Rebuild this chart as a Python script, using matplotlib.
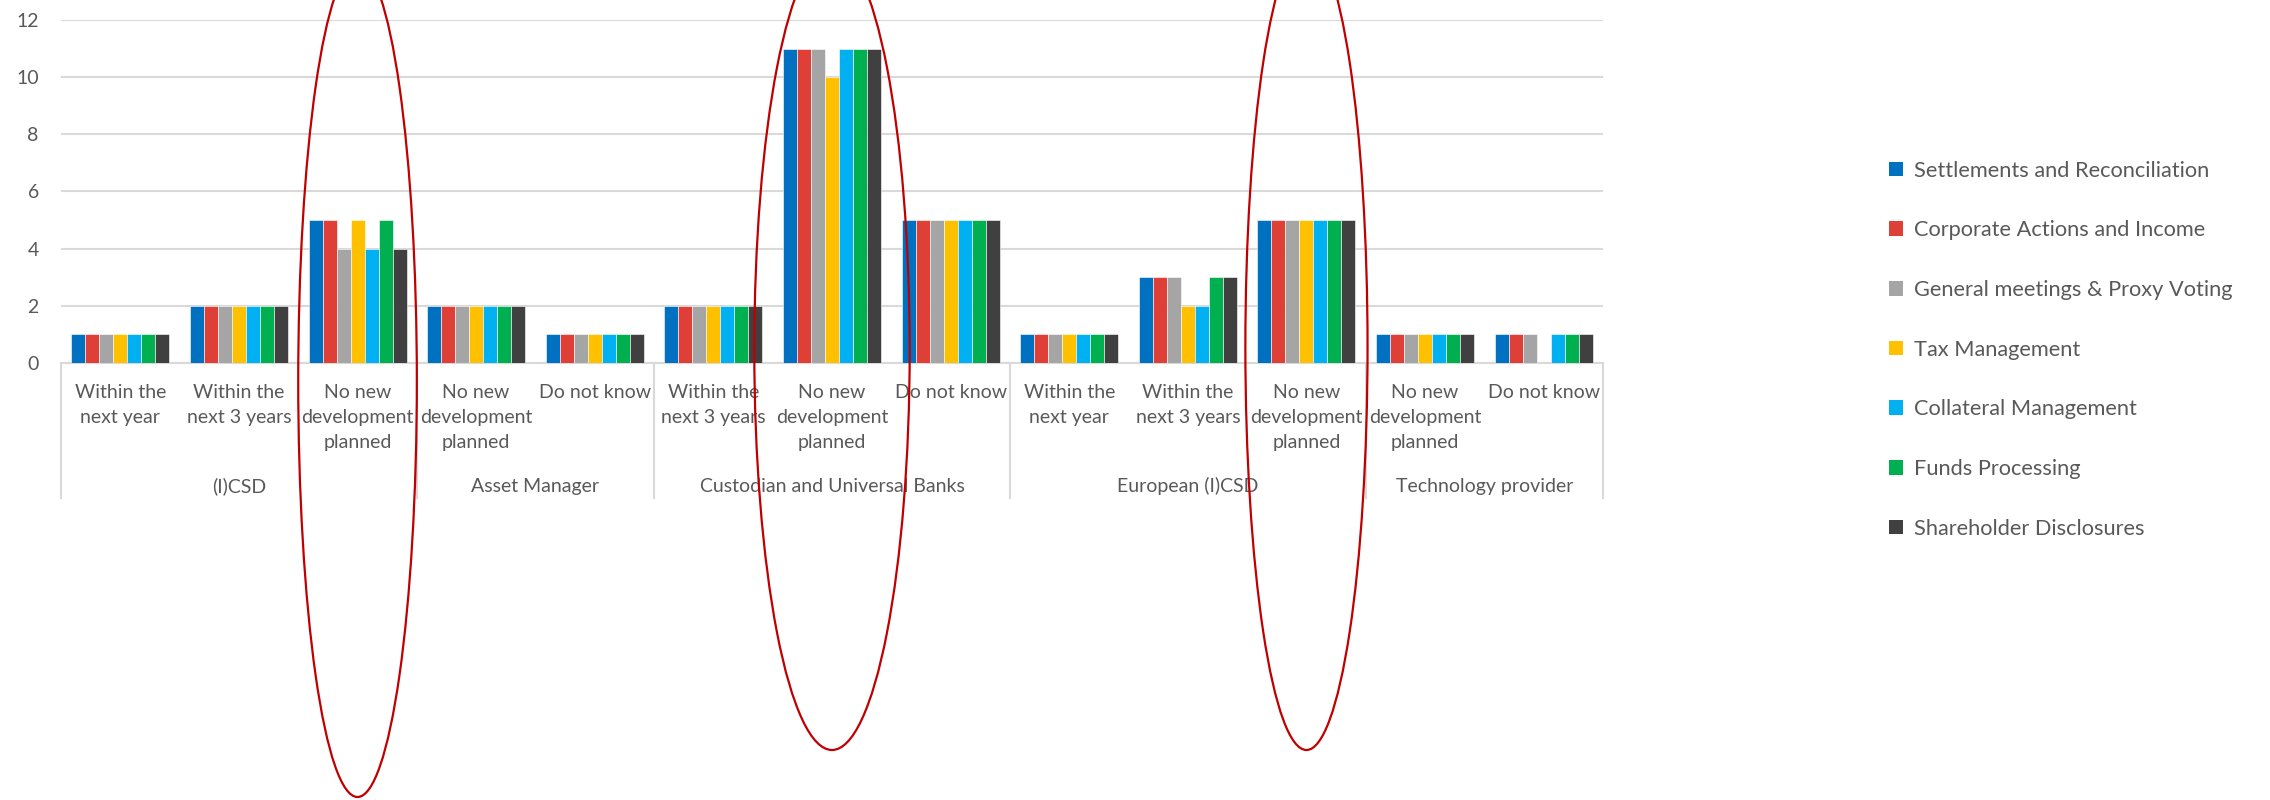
import matplotlib.pyplot as plt
import matplotlib.transforms as mtransforms
from matplotlib.patches import Ellipse, Patch
import numpy as np

plt.rcParams['font.family'] = ['Lato', 'DejaVu Sans']

groups = ['(I)CSD', 'Asset Manager', 'Custodian and Universal Banks',
          'European (I)CSD', 'Technology provider']
group_sizes = [3, 2, 3, 3, 2]
categories = ['Within the\nnext year', 'Within the\nnext 3 years', 'No new\ndevelopment\nplanned',
              'No new\ndevelopment\nplanned', 'Do not know',
              'Within the\nnext 3 years', 'No new\ndevelopment\nplanned', 'Do not know',
              'Within the\nnext year', 'Within the\nnext 3 years', 'No new\ndevelopment\nplanned',
              'No new\ndevelopment\nplanned', 'Do not know']

series = ['Settlements and Reconciliation', 'Corporate Actions and Income',
          'General meetings & Proxy Voting', 'Tax Management',
          'Collateral Management', 'Funds Processing', 'Shareholder Disclosures']
colors = ['#0070C0', '#DE4037', '#A5A5A5', '#FFC000', '#00B0F0', '#00B050', '#404040']

settlements = [1, 2, 5, 2, 1, 2, 11, 5, 1, 3, 5, 1, 1]
corporate = [1, 2, 5, 2, 1, 2, 11, 5, 1, 3, 5, 1, 1]
meetings = [1, 2, 4, 2, 1, 2, 11, 5, 1, 3, 5, 1, 1]
tax = [1, 2, 5, 2, 1, 2, 10, 5, 1, 2, 5, 1, 0]
collateral = [1, 2, 4, 2, 1, 2, 11, 5, 1, 2, 5, 1, 1]
funds = [1, 2, 5, 2, 1, 2, 11, 5, 1, 3, 5, 1, 1]
disclosures = [1, 2, 4, 2, 1, 2, 11, 5, 1, 3, 5, 1, 1]
values = [settlements, corporate, meetings, tax, collateral, funds, disclosures]

# categories circled in red (the "No new development planned" answers)
highlight = [2, 6, 10]
highlight_w = [1.0, 1.31, 1.03]

W, H = 2270, 800
fig = plt.figure(figsize=(W / 100, H / 100), dpi=100)
ax = fig.add_axes([61 / W, 1 - 363 / H, (1603 - 61) / W, (363 - 20) / H])

grid_c = '#D9D9D9'
text_c = '#595959'

x = np.arange(len(categories))
bw = 0.118
for i, (name, vals, c) in enumerate(zip(series, values, colors)):
    ax.bar(x + (i - 3) * bw, vals, width=bw, color=c, edgecolor='white',
           linewidth=0.4, label=name, zorder=3)

ax.set_xlim(-0.5, len(categories) - 0.5)
ax.set_ylim(0, 12)
ax.set_yticks(range(0, 13, 2))
ax.yaxis.grid(True, color=grid_c, linewidth=1.5, zorder=0)
for s in ['top', 'right', 'left']:
    ax.spines[s].set_visible(False)
ax.spines['bottom'].set_color(grid_c)
ax.spines['bottom'].set_linewidth(1.5)
ax.tick_params(axis='y', length=0, pad=16, labelsize=14, labelcolor=text_c)
ax.set_xticks(x)
ax.set_xticklabels(categories, fontsize=14, color=text_c, linespacing=1.56)
ax.tick_params(axis='x', length=0, pad=15)

# second-level axis: group names and separators
bounds = np.concatenate([[0], np.cumsum(group_sizes)]) - 0.5
for b in bounds:
    ax.plot([b, b], [0, -0.394], transform=ax.get_xaxis_transform(),
            color=grid_c, linewidth=1.5, clip_on=False)
for g, lo, hi in zip(groups, bounds[:-1], bounds[1:]):
    ax.text((lo + hi) / 2, -0.359, g, transform=ax.get_xaxis_transform(),
            ha='center', va='center', fontsize=14, color=text_c)

# red ellipses
tr = mtransforms.blended_transform_factory(ax.transData, fig.transFigure)
ell_y = [1 - 381 / H, 1 - 350 / H, 1 - 347 / H]
ell_h = [832 / H, 800 / H, 806 / H]
for cx, w, cy, h in zip(highlight, highlight_w, ell_y, ell_h):
    ax.add_patch(Ellipse((cx, cy), w, h, transform=tr, fill=False,
                         edgecolor='#C00000', linewidth=1.6, clip_on=False, zorder=5))

handles = [Patch(facecolor=c, edgecolor='none') for c in colors]
fig.legend(handles, series, loc='upper left', bbox_to_anchor=(1869 / W, 1 - 141 / H),
           frameon=False, fontsize=15.7, labelcolor=text_c, handlelength=0.66,
           handleheight=0.66, handletextpad=0.5, labelspacing=1.82)

fig.savefig('out.png', dpi=100)
